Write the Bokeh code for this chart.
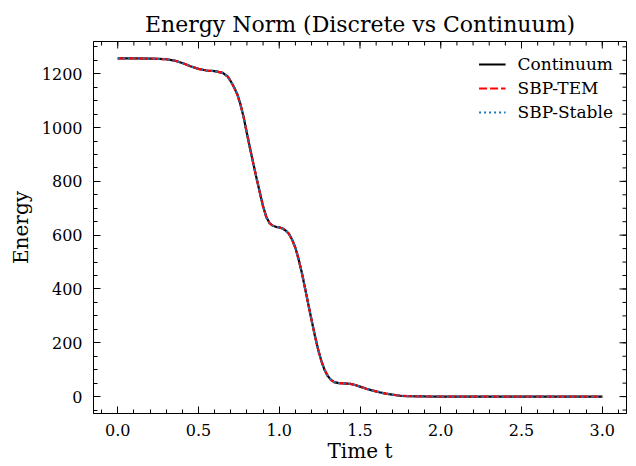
import math
from bokeh.plotting import figure
from bokeh.models import Range1d, FixedTicker, Legend, LegendItem
from bokeh.embed import file_html
from bokeh.resources import INLINE

# ---- data ----
time_t = [0.00, 0.10, 0.20, 0.30, 0.35, 0.40, 0.45, 0.50, 0.55, 0.60, 0.65, 0.68,
          0.70, 0.72, 0.74, 0.76, 0.78, 0.80, 0.82, 0.84, 0.86, 0.88, 0.90, 0.92,
          0.94, 0.96, 0.98, 1.00, 1.02, 1.04, 1.06, 1.08, 1.10, 1.12, 1.14, 1.16,
          1.18, 1.20, 1.22, 1.24, 1.26, 1.28, 1.30, 1.32, 1.34, 1.37, 1.40, 1.44,
          1.47, 1.50, 1.54, 1.58, 1.62, 1.66, 1.70, 1.75, 1.80, 1.90, 2.00, 2.50, 3.00]
energy_continuum = [1257, 1257, 1256, 1254, 1249, 1240, 1228, 1218, 1212, 1210, 1203, 1190,
                    1172, 1150, 1124, 1086, 1037, 978, 920, 865, 811, 758, 707, 667,
                    645, 635, 631, 629, 625, 617, 605, 583, 553, 510, 460, 402,
                    343, 285, 228, 177, 134, 100, 77, 62, 54, 50, 49, 47,
                    43, 37, 29, 22, 16, 11, 7, 3, 1.5, 0.5, 0.2, 0.0, 0.0]
energy_sbp_tem = list(energy_continuum)
energy_sbp_stable = list(energy_continuum)

x_ticks = [0.0, 0.5, 1.0, 1.5, 2.0, 2.5, 3.0]
x_tick_labels = ["0.0", "0.5", "1.0", "1.5", "2.0", "2.5", "3.0"]
x_minor = [round(-0.1 + 0.1 * i, 2) for i in range(33)]
y_ticks = [0, 200, 400, 600, 800, 1000, 1200]
y_tick_labels = ["0", "200", "400", "600", "800", "1000", "1200"]
y_minor = [-50 + 50 * i for i in range(28)]

title_text = "Energy Norm (Discrete vs Continuum)"
x_label = "Time t"
y_label = "Energy"
series_names = ["Continuum", "SBP-TEM", "SBP-Stable"]

FONT = "DejaVu Serif"

x0, x1 = -0.15, 3.15
ymax = max(energy_continuum)
y0, y1 = -0.05 * ymax, 1.05 * ymax

p = figure(width=636, height=466, output_backend="svg", toolbar_location=None,
           x_range=Range1d(x0, x1), y_range=Range1d(y0, y1),
           min_border_left=93, min_border_right=10, min_border_top=41, min_border_bottom=53)
p.background_fill_color = "white"
p.border_fill_color = "white"
p.grid.visible = False
p.outline_line_color = "black"
p.outline_line_width = 1

p.title.text = title_text
p.title.text_font = FONT
p.title.text_font_size = "22px"
p.title.text_font_style = "normal"
p.title.text_color = "black"
p.title.align = "center"
p.title.standoff = 10

def style_axis(ax, ticks, minor, labels):
    ax.ticker = FixedTicker(ticks=ticks, minor_ticks=minor)
    ax.major_tick_in = 7
    ax.major_tick_out = 0
    ax.minor_tick_in = 4
    ax.minor_tick_out = 0
    ax.major_tick_line_color = "black"
    ax.minor_tick_line_color = "black"
    ax.axis_line_color = "black"
    ax.axis_line_width = 1
    ax.major_label_overrides = {t: l for t, l in zip(ticks, labels)}
    ax.major_label_text_font = FONT
    ax.major_label_text_font_size = "16px"
    ax.major_label_text_color = "black"
    ax.axis_label_text_font = FONT
    ax.axis_label_text_font_size = "20px"
    ax.axis_label_text_font_style = "normal"
    ax.axis_label_text_color = "black"

xa = p.xaxis[0]
style_axis(xa, x_ticks, x_minor, x_tick_labels)
xa.major_label_standoff = 10
xa.axis_label = x_label
xa.axis_label_standoff = 0

ya = p.yaxis[0]
style_axis(ya, y_ticks, y_minor, y_tick_labels)
ya.major_label_standoff = 11
ya.axis_label = y_label
ya.axis_label_standoff = 6

# inward ticks on top and right edges (mirror of bottom/left ticks)
p.ray(x=x_ticks, y=[y1] * len(x_ticks), length=7, length_units="screen",
      angle=-math.pi / 2, line_color="black", line_width=1)
p.ray(x=x_minor, y=[y1] * len(x_minor), length=4, length_units="screen",
      angle=-math.pi / 2, line_color="black", line_width=1)
p.ray(x=[x1] * len(y_ticks), y=y_ticks, length=7, length_units="screen",
      angle=math.pi, line_color="black", line_width=1)
p.ray(x=[x1] * len(y_minor), y=y_minor, length=4, length_units="screen",
      angle=math.pi, line_color="black", line_width=1)

r1 = p.line(time_t, energy_continuum, line_color="black", line_width=2.2)
r2 = p.line(time_t, energy_sbp_tem, line_color="red", line_width=2.2, line_dash="8 3")
r3 = p.line(time_t, energy_sbp_stable, line_color="#1f77b4", line_width=2.2, line_dash="2 3")

legend = Legend(items=[LegendItem(label=series_names[0], renderers=[r1]),
                       LegendItem(label=series_names[1], renderers=[r2]),
                       LegendItem(label=series_names[2], renderers=[r3])],
                location="top_right")
legend.border_line_color = None
legend.background_fill_alpha = 0
legend.label_text_font = FONT
legend.label_text_font_size = "17px"
legend.label_text_color = "black"
legend.glyph_width = 27
legend.glyph_height = 20
legend.label_standoff = 12
legend.spacing = 4
legend.padding = 0
legend.margin = 13
p.add_layout(legend)

open("out.html", "w").write(file_html(p, INLINE))
